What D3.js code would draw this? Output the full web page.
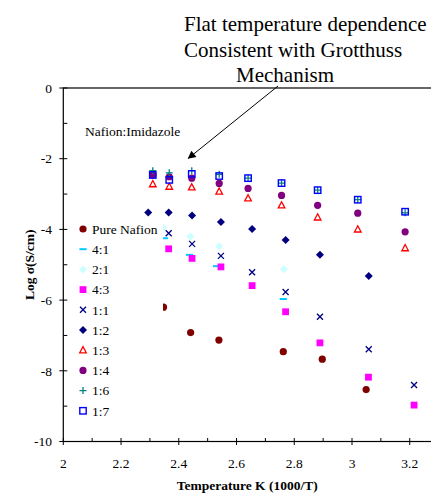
<!DOCTYPE html>
<html>
<head>
<meta charset="utf-8">
<script src="https://cdn.jsdelivr.net/npm/d3@7"></script>
<style>
  body { margin: 0; background: #fff; }
  svg { display: block; font-family: "Liberation Serif", "Times New Roman", serif; }
</style>
</head>
<body>
<svg id="chart" width="431" height="494"></svg>
<script>
// legend order = series order
var seriesNames = ["Pure Nafion", "4:1", "2:1", "4:3", "1:1", "1:2", "1:3", "1:4", "1:6", "1:7"];

var pureNafionX = [2.347, 2.441, 2.539, 2.762, 2.897, 3.049];
var pureNafionY = [-6.20, -6.92, -7.13, -7.46, -7.67, -8.53];

var r41X = [2.350, 2.437, 2.531, 2.762];
var r41Y = [-4.25, -4.72, -5.04, -5.97];

var r21X = [2.346, 2.440, 2.540, 2.764];
var r21Y = [-3.95, -4.20, -4.48, -5.13];

var r43X = [2.365, 2.446, 2.546, 2.654, 2.770, 2.889, 3.057, 3.215];
var r43Y = [-4.55, -4.82, -5.06, -5.59, -6.33, -7.21, -8.18, -8.97];

var r11X = [2.365, 2.446, 2.546, 2.654, 2.770, 2.889, 3.058, 3.215];
var r11Y = [-4.11, -4.41, -4.75, -5.21, -5.77, -6.47, -7.39, -8.40];

var r12X = [2.294, 2.365, 2.446, 2.546, 2.654, 2.770, 2.889, 3.058];
var r12Y = [-3.52, -3.52, -3.61, -3.79, -3.99, -4.30, -4.72, -5.32];

// 1:3, 1:4, 1:6, 1:7 share temperatures
var highX = [2.310, 2.367, 2.445, 2.540, 2.640, 2.756, 2.881, 3.020, 3.184];
var r13Y = [-2.72, -2.79, -2.81, -2.93, -3.12, -3.32, -3.66, -4.00, -4.53];
var r14Y = [-2.46, -2.51, -2.55, -2.70, -2.84, -3.04, -3.32, -3.54, -4.07];
var r16Y = [-2.34, -2.40, -2.34, -2.44, -2.55, -2.69, -2.89, -3.16, -3.53];
var r17Y = [-2.46, -2.60, -2.43, -2.49, -2.55, -2.69, -2.89, -3.16, -3.50];

var xTicks = [2, 2.2, 2.4, 2.6, 2.8, 3, 3.2];
var yTicks = [0, -2, -4, -6, -8, -10];

var annotationLines = ["Flat temperature dependence", "Consistent with Grotthuss", "Mechanism"];


function zip(xs, ys) {
  var out = [];
  for (var i = 0; i < xs.length; i++) {
    out.push({x: xs[i], y: ys[i]});
  }
  return out;
}

var series = [
  {name: seriesNames[0], shape: "circle",  color: "#800000", points: zip(pureNafionX, pureNafionY)},
  {name: seriesNames[1], shape: "dash",    color: "#00ccff", points: zip(r41X, r41Y)},
  {name: seriesNames[2], shape: "diamond", color: "#ccffff", points: zip(r21X, r21Y)},
  {name: seriesNames[3], shape: "square",  color: "#ff00ff", points: zip(r43X, r43Y)},
  {name: seriesNames[4], shape: "x",       color: "#000080", points: zip(r11X, r11Y)},
  {name: seriesNames[5], shape: "diamond", color: "#000080", points: zip(r12X, r12Y)},
  {name: seriesNames[6], shape: "triangle",color: "#ff0000", points: zip(highX, r13Y)},
  {name: seriesNames[7], shape: "circle",  color: "#800080", points: zip(highX, r14Y)},
  {name: seriesNames[8], shape: "plus",    color: "#008080", points: zip(highX, r16Y)},
  {name: seriesNames[9], shape: "osquare", color: "#0000ff", points: zip(highX, r17Y)}
];

function drawMarker(g, shape, color) {
  if (shape == "circle") {
    g.append("circle").attr("r", 3.6).attr("fill", color);
  } else if (shape == "dash") {
    g.append("rect").attr("x", -3.6).attr("y", -1).attr("width", 7.2).attr("height", 2).attr("fill", color);
  } else if (shape == "diamond") {
    g.append("path").attr("d", "M0,-4L4,0L0,4L-4,0Z").attr("fill", color);
  } else if (shape == "square") {
    g.append("rect").attr("x", -3.4).attr("y", -3.4).attr("width", 6.8).attr("height", 6.8).attr("fill", color);
  } else if (shape == "osquare") {
    g.append("rect").attr("x", -3.2).attr("y", -3.2).attr("width", 6.4).attr("height", 6.4)
      .attr("fill", "none").attr("stroke", color).attr("stroke-width", 1.4);
  } else if (shape == "x") {
    g.append("path").attr("d", "M-3,-3L3,3M-3,3L3,-3").attr("stroke", color).attr("stroke-width", 1.3);
  } else if (shape == "plus") {
    g.append("path").attr("d", "M-3.5,0L3.5,0M0,-3.5L0,3.5").attr("stroke", color).attr("stroke-width", 1.3);
  } else if (shape == "triangle") {
    g.append("path").attr("d", "M0,-3.6L3.3,2.6L-3.3,2.6Z")
      .attr("fill", "none").attr("stroke", color).attr("stroke-width", 1.3);
  }
}

var svg = d3.select("#chart");

var plotLeft = 63.3, plotTop = 88, plotBottom = 441.5;

var x = d3.scaleLinear().domain([2, 3.3]).range([plotLeft, plotLeft + 1.3 * 288.7]);
var y = d3.scaleLinear().domain([-10, 0]).range([plotBottom, plotTop]);

// frame (right side falls outside the picture)
svg.append("rect")
  .attr("x", plotLeft).attr("y", plotTop)
  .attr("width", x(3.3) - plotLeft).attr("height", plotBottom - plotTop)
  .attr("fill", "none").attr("stroke", "#000").attr("stroke-width", 1.2);

// minor ticks: inside only
var xMinor = d3.range(2.1, 3.3, 0.2);
svg.selectAll(".xminor").data(xMinor).enter().append("line")
  .attr("x1", function(d) { return x(d); }).attr("x2", function(d) { return x(d); })
  .attr("y1", plotBottom).attr("y2", plotBottom - 3.5)
  .attr("stroke", "#000");

var yMinor = [-1, -3, -5, -7, -9];
svg.selectAll(".yminor").data(yMinor).enter().append("line")
  .attr("x1", plotLeft).attr("x2", plotLeft + 4)
  .attr("y1", function(d) { return y(d); }).attr("y2", function(d) { return y(d); })
  .attr("stroke", "#000");

// major ticks: crossing
svg.selectAll(".xmajor").data(xTicks).enter().append("line")
  .attr("x1", function(d) { return x(d); }).attr("x2", function(d) { return x(d); })
  .attr("y1", plotBottom - 3.5).attr("y2", plotBottom + 3.5)
  .attr("stroke", "#000");

svg.selectAll(".ymajor").data(yTicks).enter().append("line")
  .attr("x1", plotLeft - 4).attr("x2", plotLeft + 4)
  .attr("y1", function(d) { return y(d); }).attr("y2", function(d) { return y(d); })
  .attr("stroke", "#000");

// tick labels
svg.selectAll(".xlab").data(xTicks).enter().append("text")
  .attr("x", function(d) { return x(d); })
  .attr("y", 468)
  .attr("text-anchor", "middle")
  .attr("font-size", "13.5px")
  .text(function(d) { return d3.format("")(d); });

svg.selectAll(".ylab").data(yTicks).enter().append("text")
  .attr("x", 52)
  .attr("y", function(d) { return y(d); })
  .attr("dy", "0.35em")
  .attr("text-anchor", "end")
  .attr("font-size", "13.5px")
  .text(function(d) { return d; });

// axis titles
svg.append("text")
  .attr("x", (plotLeft + 431) / 2).attr("y", 490)
  .attr("text-anchor", "middle")
  .attr("font-size", "13.5px").attr("font-weight", "bold")
  .text("Temperature K (1000/T)");

svg.append("text")
  .attr("transform", "translate(34," + ((plotTop + plotBottom) / 2) + ") rotate(-90)")
  .attr("text-anchor", "middle")
  .attr("font-size", "13.5px").attr("font-weight", "bold")
  .text("Log \u03c3(S/cm)");

// points
series.forEach(function(s) {
  svg.append("g").selectAll("g").data(s.points).enter().append("g")
    .attr("transform", function(d) { return "translate(" + x(d.x) + "," + y(d.y) + ")"; })
    .each(function() { drawMarker(d3.select(this), s.shape, s.color); });
});

// legend (white box covers points underneath)
var legendTop = 219, legendStep = 20.2;
svg.append("rect")
  .attr("x", 72).attr("y", legendTop)
  .attr("width", 163 - 72).attr("height", legendStep * series.length + 2)
  .attr("fill", "#fff");

var legend = svg.append("g").selectAll("g").data(series).enter().append("g")
  .attr("transform", function(d, i) { return "translate(83," + (legendTop + 10 + i * legendStep) + ")"; });

legend.each(function(d) { drawMarker(d3.select(this), d.shape, d.color); });

legend.append("text")
  .attr("x", 9).attr("dy", "0.35em")
  .attr("font-size", "13.5px")
  .text(function(d) { return d.name; });

// annotations
svg.append("text")
  .attr("x", 85).attr("y", 136)
  .attr("font-size", "13.5px")
  .text("Nafion:Imidazole");

var annX = [184, 184, 236];
var annY = [31, 57, 82];
svg.selectAll(".ann").data(annotationLines).enter().append("text")
  .attr("x", function(d, i) { return annX[i]; })
  .attr("y", function(d, i) { return annY[i]; })
  .attr("font-size", "21px")
  .text(function(d) { return d; });

svg.append("defs").append("marker")
  .attr("id", "head")
  .attr("viewBox", "0 0 10 10")
  .attr("refX", 9).attr("refY", 5)
  .attr("markerWidth", 10).attr("markerHeight", 8)
  .attr("markerUnits", "userSpaceOnUse")
  .attr("orient", "auto")
  .append("path").attr("d", "M0,0L10,5L0,10Z").attr("fill", "#000");

svg.append("line")
  .attr("x1", 278).attr("y1", 86)
  .attr("x2", x(2.433)).attr("y2", y(-1.99))
  .attr("stroke", "#000").attr("stroke-width", 1)
  .attr("marker-end", "url(#head)");
</script>
</body>
</html>
